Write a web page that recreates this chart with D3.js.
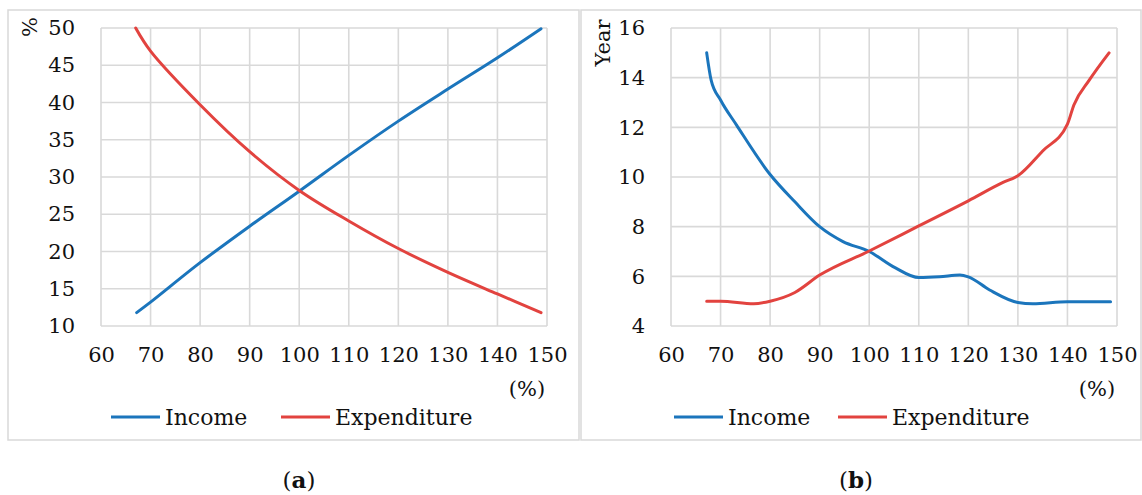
<!DOCTYPE html>
<html>
<head>
<meta charset="utf-8">
<script src="https://cdn.jsdelivr.net/npm/d3@7"></script>
<style>
  body { margin: 0; background: #fff; }
  svg text { font-family: "DejaVu Serif", serif; fill: #111; }
</style>
</head>
<body>
<svg id="chart" width="1142" height="495"></svg>
<script>
// shared axis ticks
const xTicks = [60, 70, 80, 90, 100, 110, 120, 130, 140, 150];
const yTicksA = [10, 15, 20, 25, 30, 35, 40, 45, 50];
const yTicksB = [4, 6, 8, 10, 12, 14, 16];

// panel (a) : % vs ratio (%)
const incomeAx = [67.2, 70, 80, 90, 100, 110, 120, 130, 140, 148.8];
const incomeAy = [11.8, 13.2, 18.5, 23.4, 28.1, 32.9, 37.5, 41.8, 46.0, 49.9];
const expendAx = [67.0, 70, 80, 90, 100, 110, 120, 130, 140, 148.8];
const expendAy = [50.0, 46.9, 39.7, 33.4, 28.2, 24.1, 20.4, 17.2, 14.3, 11.8];

// panel (b) : Year vs ratio (%)
const incomeBx = [67.2, 68.1, 70, 73.2, 80, 85, 90, 94.7, 100, 105.2, 110, 114.2, 118.3, 120, 124.3, 130, 133, 140, 148.7];
const incomeBy = [15.0, 13.9, 13.1, 12.1, 10.1, 9.0, 8.0, 7.4, 7.0, 6.35, 5.95, 5.98, 6.05, 5.98, 5.45, 4.95, 4.9, 4.98, 4.98];
const expendBx = [67.2, 70, 76.7, 80, 85, 90, 100, 110, 120, 127, 130, 135, 140, 141.3, 144.4, 148.4];
const expendBy = [5.0, 5.0, 4.9, 5.0, 5.35, 6.05, 7.02, 8.03, 9.04, 9.78, 10.05, 11.05, 12.13, 12.9, 13.9, 15.0];

const blue = "#1b75bc", red = "#e2433f", grid = "#d9d9d9";

const svg = d3.select("#chart");

function zip(xs, ys) {
  return xs.map((x, i) => ({x: x, y: ys[i]}));
}

function drawPanel(cfg) {
  // panel frame
  svg.append("rect")
    .attr("x", cfg.box[0]).attr("y", cfg.box[1])
    .attr("width", cfg.box[2]).attr("height", cfg.box[3])
    .attr("fill", "none").attr("stroke", grid).attr("stroke-width", 1.5);

  let x = d3.scaleLinear().domain([60, 150]).range([cfg.left, cfg.left + 446]);
  let y = d3.scaleLinear().domain(cfg.yDomain).range([326, 28]);

  let g = svg.append("g");

  // gridlines
  g.selectAll("line.vg").data(xTicks).enter().append("line")
    .attr("x1", d => x(d)).attr("x2", d => x(d))
    .attr("y1", y.range()[0]).attr("y2", y.range()[1])
    .attr("stroke", grid).attr("stroke-width", 1.6);
  g.selectAll("line.hg").data(cfg.yTicks).enter().append("line")
    .attr("y1", d => y(d)).attr("y2", d => y(d))
    .attr("x1", x.range()[0]).attr("x2", x.range()[1])
    .attr("stroke", grid).attr("stroke-width", 1.6);

  // axes (labels only)
  let xAxis = g.append("g").attr("transform", "translate(0,341)")
    .call(d3.axisBottom(x).tickValues(xTicks).tickSize(0).tickPadding(6));
  let yAxis = g.append("g").attr("transform", "translate(" + (cfg.left - 26) + ",0)")
    .call(d3.axisLeft(y).tickValues(cfg.yTicks).tickSize(0).tickPadding(0));
  [xAxis, yAxis].forEach(a => {
    a.select(".domain").remove();
    a.selectAll("text").attr("font-family", "DejaVu Serif").attr("font-size", 21).attr("fill", "#111");
  });

  // axis titles
  svg.append("text")
    .attr("transform", "translate(" + cfg.yTitleX + "," + cfg.yTitleY + ") rotate(-90)")
    .attr("text-anchor", "middle").attr("dy", "0.35em")
    .attr("font-size", 21).text(cfg.yTitle);
  svg.append("text")
    .attr("x", x(150) - 20).attr("y", 396)
    .attr("text-anchor", "middle").attr("font-size", 21).text("(%)");

  // series
  let line = d3.line().x(d => x(d.x)).y(d => y(d.y)).curve(cfg.curve);
  cfg.series.forEach(s => {
    g.append("path").datum(s.data)
      .attr("d", line).attr("fill", "none")
      .attr("stroke", s.color).attr("stroke-width", 3)
      .attr("stroke-linecap", "round");
  });

  // legend
  cfg.series.forEach(s => {
    svg.append("line")
      .attr("x1", s.lx).attr("x2", s.lx + 49).attr("y1", 417).attr("y2", 417)
      .attr("stroke", s.color).attr("stroke-width", 3);
    svg.append("text")
      .attr("x", s.lx + 54).attr("y", 417).attr("dy", "0.35em")
      .attr("font-size", 22).text(s.name);
  });

  // caption
  let cap = svg.append("text")
    .attr("x", cfg.capX).attr("y", 488)
    .attr("text-anchor", "middle").attr("font-size", 23);
  cap.append("tspan").text("(");
  cap.append("tspan").attr("font-weight", "bold").text(cfg.cap);
  cap.append("tspan").text(")");
}

drawPanel({
  box: [8, 10, 571, 430], left: 101,
  yDomain: [10, 50], yTicks: yTicksA,
  yTitle: "%", yTitleX: 30, yTitleY: 27,
  capX: 299, cap: "a", curve: d3.curveCatmullRom.alpha(0.5),
  series: [
    {name: "Income", color: blue, data: zip(incomeAx, incomeAy), lx: 111},
    {name: "Expenditure", color: red, data: zip(expendAx, expendAy), lx: 281}
  ]
});

drawPanel({
  box: [581, 10, 560, 430], left: 671,
  yDomain: [4, 16], yTicks: yTicksB,
  yTitle: "Year", yTitleX: 603, yTitleY: 43,
  capX: 856, cap: "b", curve: d3.curveMonotoneX,
  series: [
    {name: "Income", color: blue, data: zip(incomeBx, incomeBy), lx: 674},
    {name: "Expenditure", color: red, data: zip(expendBx, expendBy), lx: 838}
  ]
});
</script>
</body>
</html>
